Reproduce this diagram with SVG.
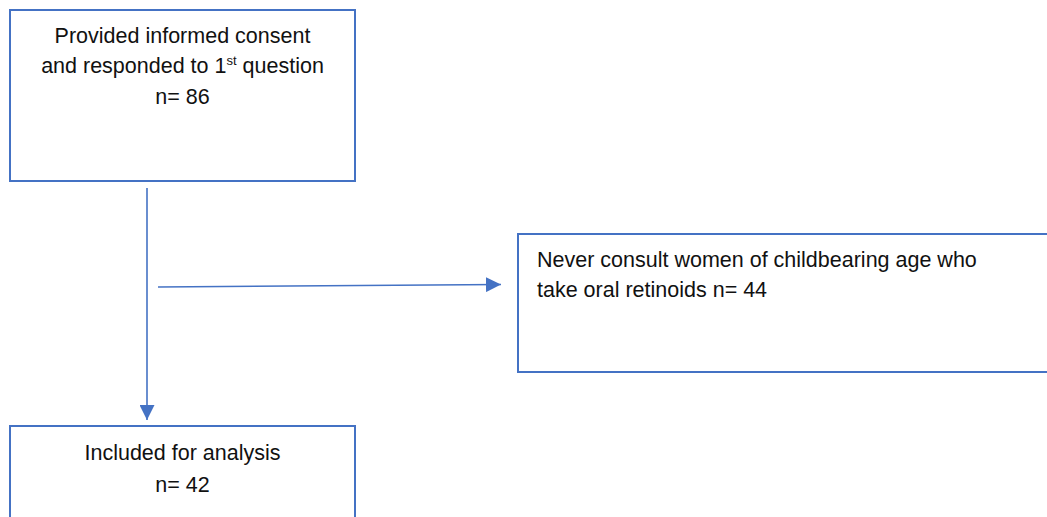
<svg xmlns="http://www.w3.org/2000/svg" width="1047" height="517" viewBox="0 0 1047 517">
<style>
.box{fill:#fff;stroke:#4472C4;stroke-width:2}
.t{font-family:"Liberation Sans",Arial,sans-serif;font-size:21.5px;fill:#111}
.c{text-anchor:middle}
.ln{stroke:#4472C4;stroke-width:1.6;fill:none}
</style>
<defs>
<marker id="ah" viewBox="0 0 10 10" refX="10" refY="5" markerWidth="7.5" markerHeight="7.5" markerUnits="userSpaceOnUse" orient="auto">
<path d="M0,0 L10,5 L0,10 Z" fill="#4472C4"/>
</marker>
<marker id="ah2" viewBox="0 0 10 10" refX="10" refY="5" markerWidth="15" markerHeight="15" markerUnits="userSpaceOnUse" orient="auto">
<path d="M0,0 L10,5 L0,10 Z" fill="#4472C4"/>
</marker>
</defs>
<g id="connectors">
<line class="ln" x1="147" y1="188" x2="147" y2="420" marker-end="url(#ah2)"/>
<line class="ln" x1="158" y1="287" x2="501" y2="284.5" marker-end="url(#ah2)"/>
</g>
<g id="node-consent">
<rect class="box" x="10" y="10" width="345" height="171"/>
<text class="t c" x="182.5" y="43">Provided informed consent</text>
<text class="t c" x="182.5" y="73">and responded to 1<tspan font-size="13" dy="-8">st</tspan><tspan dy="8"> question</tspan></text>
<text class="t c" x="182.5" y="104">n= 86</text>
</g>
<g id="node-excluded">
<rect class="box" x="518" y="234" width="540" height="138"/>
<text class="t" x="537" y="267">Never consult women of childbearing age who</text>
<text class="t" x="537" y="297">take oral retinoids n= 44</text>
</g>
<g id="node-included">
<rect class="box" x="10" y="426" width="345" height="110"/>
<text class="t c" x="182.5" y="460">Included for analysis</text>
<text class="t c" x="182.5" y="492">n= 42</text>
</g>
</svg>
